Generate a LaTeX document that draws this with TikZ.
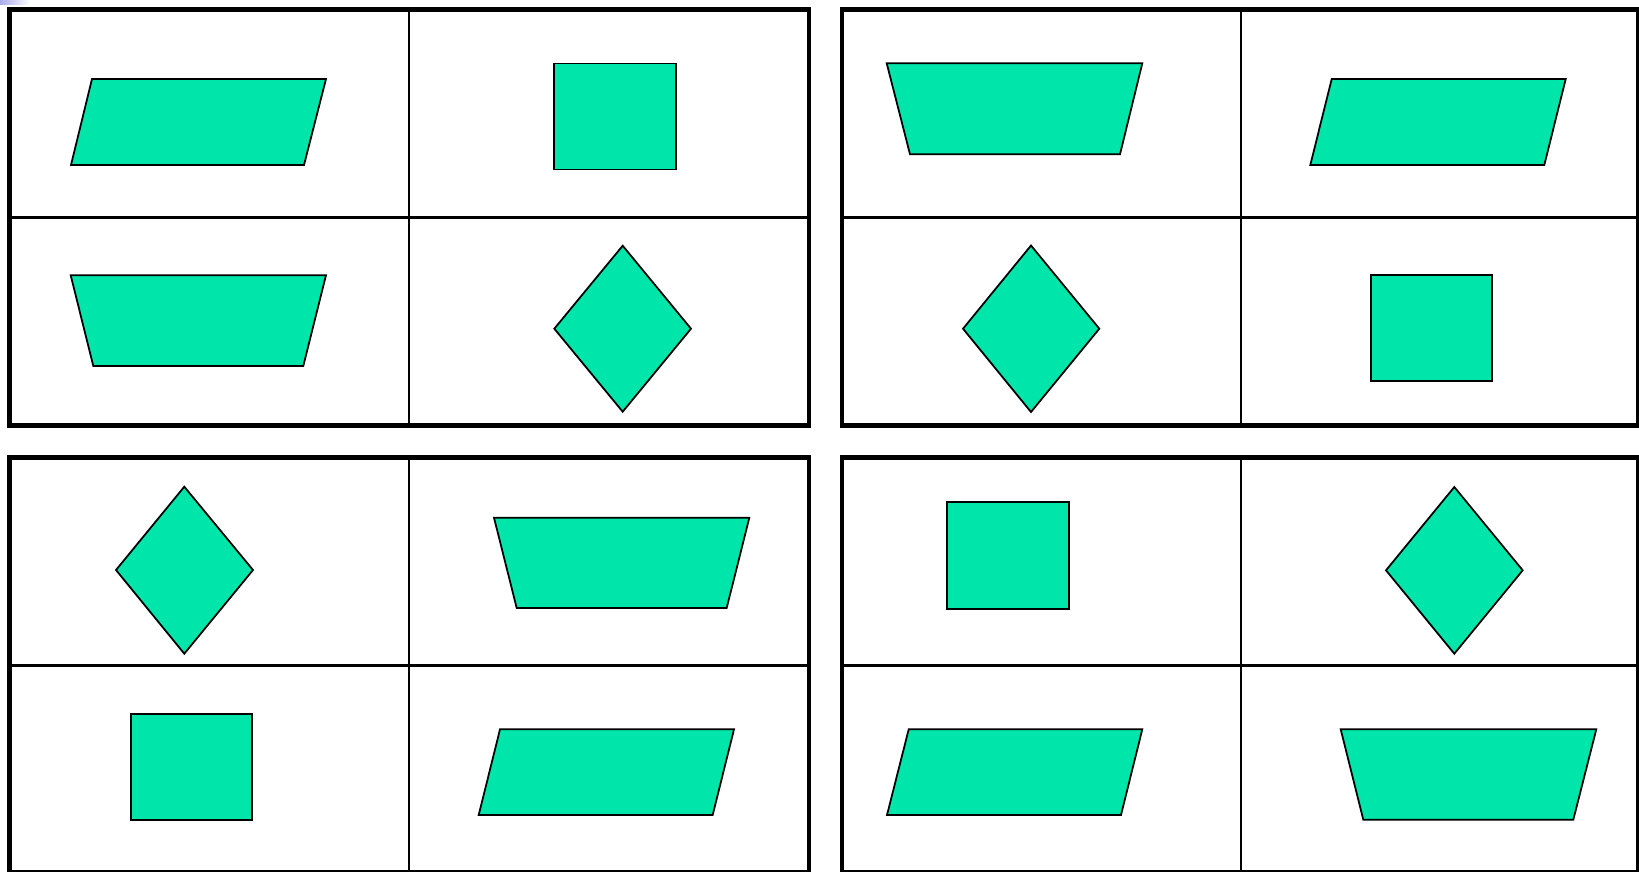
\documentclass[tikz,border=0pt]{standalone}
\usepackage{tikz}

\definecolor{tilegreen}{RGB}{0,229,170}
\definecolor{corner}{RGB}{170,170,235}

\begin{document}
\begin{tikzpicture}[
    x=0.02cm, y=-0.02cm,
    frame/.style={draw, line width=2.75pt, line join=miter},
    grid/.style={draw, line width=1.45pt},
    tile/.style={draw, fill=tilegreen, line width=1pt, line join=miter}
]
\useasboundingbox (0,0) rectangle (1639,873);
\shade[left color=corner, right color=white] (0,0) rectangle (30,4.5);

\draw[grid] (9.6,217.3) -- (809,217.3);
\draw[grid] (409,9.7) -- (409,425.5);
\draw[frame] (9.6,425.5) -- (9.6,9.7) -- (809,9.7) -- (809,425.5) -- cycle;

\draw[grid] (842,217.3) -- (1637.7,217.3);
\draw[grid] (1241,9.7) -- (1241,425.5);
\draw[grid] (1637.7,9.7) -- (1637.7,425.5);
\draw[frame] (1639,9.7) -- (842,9.7) -- (842,425.5) -- (1639,425.5);

\draw[grid] (9.6,665.7) -- (809,665.7);
\draw[grid] (409,457.8) -- (409,870.8);
\draw[grid] (9.6,870.8) -- (809,870.8);
\draw[frame] (9.6,872.1) -- (9.6,457.8) -- (809,457.8) -- (809,872.1);

\draw[grid] (842,665.7) -- (1637.7,665.7);
\draw[grid] (1241,457.8) -- (1241,870.8);
\draw[grid] (842,870.8) -- (1637.7,870.8) -- (1637.7,457.8);
\draw[frame] (1639,457.8) -- (842,457.8) -- (842,872.1);

\filldraw[tile] (71,165) -- (92,79) -- (326,79) -- (304,165) -- cycle;
\filldraw[tile] (554,63.5) rectangle (676,169.5);
\filldraw[tile] (70.7,275.3) -- (326,275.3) -- (303.3,366) -- (93.3,366) -- cycle;
\filldraw[tile] (554.3,328.7) -- (622.7,245.7) -- (691,328.7) -- (622.7,411.7) -- cycle;

\filldraw[tile] (886.7,63.3) -- (1142.3,63.3) -- (1120,154.3) -- (910,154.3) -- cycle;
\filldraw[tile] (1310.3,165) -- (1331.7,79) -- (1565.7,79) -- (1544.3,165) -- cycle;
\filldraw[tile] (963,328.7) -- (1031,245.5) -- (1099.3,328.7) -- (1031,412) -- cycle;
\filldraw[tile] (1370.7,275.3) rectangle (1492.3,381);

\filldraw[tile] (116,570) -- (184.3,486.7) -- (253,570) -- (184.3,653.7) -- cycle;
\filldraw[tile] (494,517.7) -- (749.3,517.7) -- (726.7,608) -- (516.7,608) -- cycle;
\filldraw[tile] (131,714) rectangle (252.3,819.7);
\filldraw[tile] (478.7,815) -- (500,729.3) -- (734,729.3) -- (712.7,815) -- cycle;

\filldraw[tile] (947,502.3) rectangle (1069,608.7);
\filldraw[tile] (1386,570.3) -- (1454.3,487) -- (1522.7,570.3) -- (1454.3,653.7) -- cycle;
\filldraw[tile] (887,815) -- (908.7,729.3) -- (1142.3,729.3) -- (1121,815) -- cycle;
\filldraw[tile] (1340.7,729.3) -- (1596.3,729.3) -- (1573.3,819.7) -- (1363.3,819.7) -- cycle;
\end{tikzpicture}
\end{document}
